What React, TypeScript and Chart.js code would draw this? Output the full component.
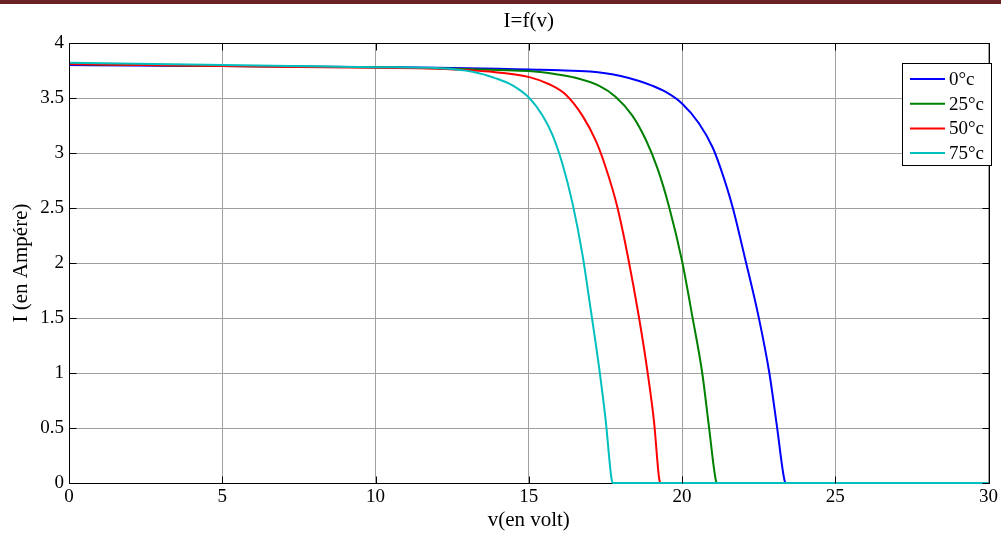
import React, { useEffect, useRef } from "react";
import { Chart, registerables } from "chart.js";

Chart.register(...registerables);

// ---- data ----
const chartTitle = "I=f(v)";
const xAxisTitle = "v(en volt)";
const yAxisTitle = "I (en Ampére)";
const seriesLabels = ["0°c", "25°c", "50°c", "75°c"];
const xTickValues = [0, 5, 10, 15, 20, 25, 30];
const yTickValues = [0, 0.5, 1, 1.5, 2, 2.5, 3, 3.5, 4];

const v0 = [0, 2, 5, 8, 10, 12, 14, 15, 16, 17, 17.5, 18, 18.6, 19.0, 19.47, 20, 20.55, 21, 21.26, 21.65, 22.05, 22.5, 22.85, 23.1, 23.34, 23.4, 30];
const i0 = [3.8, 3.795, 3.79, 3.785, 3.78, 3.775, 3.765, 3.758, 3.752, 3.74, 3.725, 3.7, 3.655, 3.615, 3.555, 3.45, 3.27, 3.05, 2.86, 2.51, 2.05, 1.51, 1.0, 0.51, 0.03, 0, 0];

const v25 = [0, 5, 10, 12, 14, 15, 15.8, 16.43, 17.3, 17.84, 18.38, 18.82, 19.2, 19.58, 20, 20.34, 20.66, 20.88, 21.1, 21.15, 30];
const i25 = [3.81, 3.79, 3.78, 3.77, 3.755, 3.745, 3.72, 3.69, 3.61, 3.51, 3.34, 3.12, 2.86, 2.51, 2.02, 1.51, 1.0, 0.51, 0.03, 0, 0];

const v50 = [0, 5, 10, 12, 13.71, 15.02, 15.67, 16.21, 16.75, 17.19, 17.51, 17.89, 18.22, 18.6, 18.87, 19.09, 19.25, 19.3, 30];
const i50 = [3.81, 3.79, 3.775, 3.767, 3.74, 3.69, 3.625, 3.53, 3.34, 3.11, 2.87, 2.51, 2.08, 1.5, 1.02, 0.55, 0.05, 0, 0];

const v75 = [0, 5, 10, 12.08, 13.17, 13.93, 14.47, 15.02, 15.45, 15.78, 16.1, 16.43, 16.75, 17.02, 17.3, 17.51, 17.7, 17.75, 30];
const i75 = [3.82, 3.8, 3.78, 3.77, 3.738, 3.678, 3.615, 3.5, 3.34, 3.16, 2.9, 2.54, 2.08, 1.58, 1.04, 0.57, 0.04, 0, 0];

const seriesV = [v0, v25, v50, v75];
const seriesI = [i0, i25, i50, i75];

// ---- styles ----
const COLORS = ["#0000ff", "#008000", "#ff0000", "#00bfbf"];
const FONT = "'Liberation Serif', 'Times New Roman', serif";

const framePlugin = {
  id: "matlabFrame",
  afterDatasetsDraw(chart: any) {
    const { ctx, chartArea } = chart;
    const { left, right, top, bottom } = chartArea;
    const xs = chart.scales.x;
    const ys = chart.scales.y;
    ctx.save();
    ctx.strokeStyle = "#000";
    ctx.lineWidth = 1;
    const L = Math.round(left) + 0.5;
    const R = Math.round(right) + 0.5;
    const T = Math.round(top) + 0.5;
    const B = Math.round(bottom) + 0.5;
    ctx.beginPath();
    ctx.moveTo(L, B);
    ctx.lineTo(L, T);
    ctx.lineTo(R, T);
    ctx.lineTo(R, B);
    ctx.stroke();
    const tl = 7;
    ctx.beginPath();
    xTickValues.forEach((v) => {
      const px = Math.round(xs.getPixelForValue(v)) + 0.5;
      ctx.moveTo(px, B);
      ctx.lineTo(px, B - tl);
      ctx.moveTo(px, T);
      ctx.lineTo(px, T + tl);
    });
    yTickValues.forEach((v) => {
      const py = Math.round(ys.getPixelForValue(v)) + 0.5;
      ctx.moveTo(L, py);
      ctx.lineTo(L + tl, py);
      ctx.moveTo(R, py);
      ctx.lineTo(R - tl, py);
    });
    ctx.stroke();

    // legend
    const bx = 902.5, by = 63.5, bw = 89, bh = 102;
    ctx.fillStyle = "#fff";
    ctx.fillRect(bx, by, bw, bh);
    ctx.strokeStyle = "#000";
    ctx.strokeRect(bx, by, bw, bh);
    ctx.font = `19px ${FONT}`;
    ctx.textBaseline = "middle";
    ctx.textAlign = "left";
    chart.data.datasets.forEach((ds: any, k: number) => {
      const y = 79 + k * 24.7;
      ctx.strokeStyle = ds.borderColor;
      ctx.lineWidth = 2;
      ctx.beginPath();
      ctx.moveTo(910, y);
      ctx.lineTo(945, y);
      ctx.stroke();
      ctx.fillStyle = "#000";
      ctx.fillText(ds.label, 949, y + 1);
    });
    ctx.restore();
  },
};

const axisLinePlugin = {
  id: "bottomAxisLine",
  beforeDatasetsDraw(chart: any) {
    const { ctx, chartArea } = chart;
    ctx.save();
    ctx.strokeStyle = "#000";
    ctx.lineWidth = 1;
    const B = Math.round(chartArea.bottom) + 0.5;
    ctx.beginPath();
    ctx.moveTo(Math.round(chartArea.left) + 0.5, B);
    ctx.lineTo(Math.round(chartArea.right) + 0.5, B);
    ctx.stroke();
    ctx.restore();
  },
};

export default function App() {
  const ref = useRef<HTMLCanvasElement | null>(null);
  useEffect(() => {
    if (!ref.current) return;
    const datasets = seriesLabels.map((label, k) => ({
      label,
      data: seriesV[k].map((v, j) => ({ x: v, y: seriesI[k][j] })),
      borderColor: COLORS[k],
      backgroundColor: COLORS[k],
      borderWidth: 2,
      pointRadius: 0,
      fill: false,
      order: seriesLabels.length - 1 - k,
      cubicInterpolationMode: "monotone" as const,
      clip: false as any,
    }));
    const chart = new Chart(ref.current, {
      type: "line",
      data: { datasets },
      plugins: [axisLinePlugin, framePlugin],
      options: {
        animation: false,
        responsive: false,
        devicePixelRatio: 1,
        layout: { padding: { top: 5, right: 11, left: 0, bottom: 0 } },
        plugins: {
          legend: { display: false },
          tooltip: { enabled: false },
          title: {
            display: true,
            text: chartTitle,
            fullSize: false,
            color: "#000",
            font: { family: FONT, size: 21, weight: "normal" },
            padding: { top: 4, bottom: 8.8 },
          },
        },
        scales: {
          x: {
            type: "linear",
            min: 0,
            max: 30,
            afterBuildTicks: (s: any) => {
              s.ticks = xTickValues.map((value) => ({ value }));
            },
            afterFit: (s: any) => {
              s.height = 52;
            },
            border: { display: false },
            grid: { color: "#a0a0a0", lineWidth: 1, drawTicks: false },
            ticks: {
              color: "#000",
              padding: 3,
              maxRotation: 0,
              font: { family: FONT, size: 19 },
              callback: (v: any) => String(v),
            },
            title: {
              display: true,
              text: xAxisTitle,
              color: "#000",
              font: { family: FONT, size: 21 },
              padding: { top: 0, bottom: 2 },
            },
          },
          y: {
            type: "linear",
            min: 0,
            max: 4,
            afterBuildTicks: (s: any) => {
              s.ticks = yTickValues.map((value) => ({ value }));
            },
            afterFit: (s: any) => {
              s.width = 69;
            },
            border: { display: false },
            grid: { color: "#a0a0a0", lineWidth: 1, drawTicks: false },
            ticks: {
              color: "#000",
              padding: 5,
              font: { family: FONT, size: 19 },
              callback: (v: any) => String(v),
            },
            title: {
              display: true,
              text: yAxisTitle,
              color: "#000",
              font: { family: FONT, size: 21 },
              padding: { top: 9, bottom: 0 },
            },
          },
        },
      },
    });
    return () => chart.destroy();
  }, []);

  return (
    <div style={{ position: "absolute", left: 0, top: 0, width: 1001, height: 535, background: "#fff" }}>
      <div style={{ position: "absolute", left: 0, top: 0, width: 1001, height: 4, background: "#6b2224" }} />
      <canvas ref={ref} width={1001} height={535} style={{ display: "block", width: 1001, height: 535 }} />
    </div>
  );
}
